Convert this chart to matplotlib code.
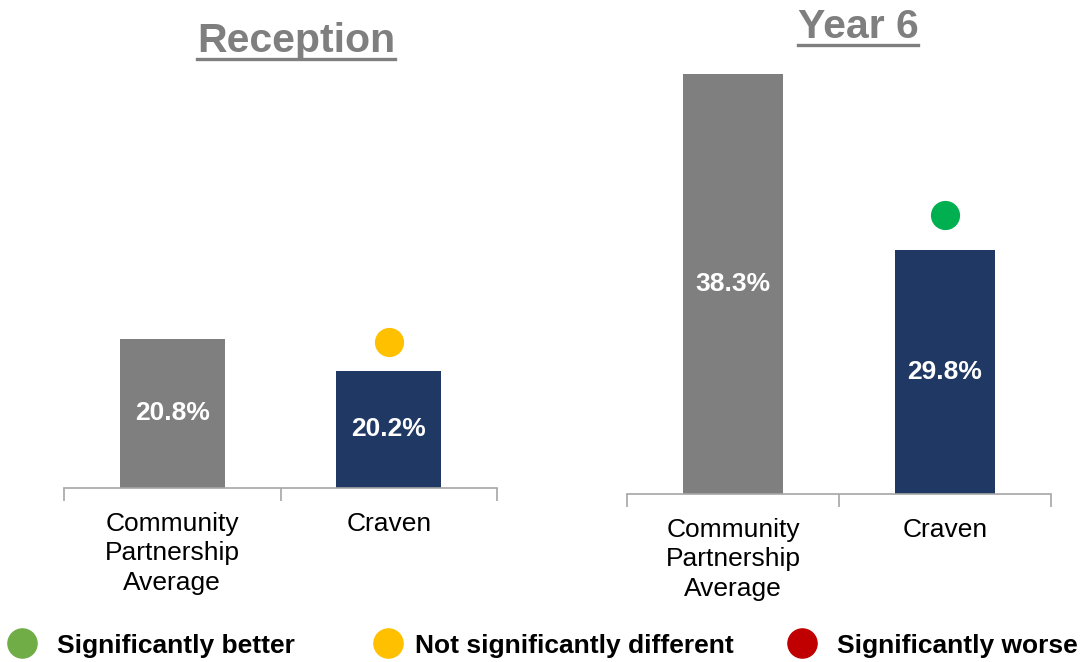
import matplotlib

matplotlib.use("Agg")
import matplotlib.pyplot as plt
from matplotlib.lines import Line2D
from matplotlib.transforms import offset_copy

plt.rcParams["font.family"] = ["Liberation Sans", "DejaVu Sans"]

# data
CATEGORIES = ["Community\nPartnership\nAverage", "Craven"]
RECEPTION = [20.8, 20.2]
YEAR6 = [38.3, 29.8]
RECEPTION_SIG = "not_different"  # Craven vs CP average
YEAR6_SIG = "better"
BASELINE = 18.0  # value axis starts at 18%

BAR_COLORS = ["#7f7f7f", "#203864"]
DOT_COLORS = {"better": "#00b050", "not_different": "#ffc000", "worse": "#c00000"}
LEGEND_ITEMS = [
    ("Significantly better", "#70ad47"),
    ("Not significantly different", "#ffc000"),
    ("Significantly worse", "#c00000"),
]

W, H = 1087, 662
fig = plt.figure(figsize=(W / 100, H / 100), dpi=100)


def px_box(left, right, top, bottom):
    return [left / W, 1 - bottom / H, (right - left) / W, (bottom - top) / H]


def draw_panel(rect, values, sig, px_per_unit, width, dot_gap):
    ax = fig.add_axes(rect)
    height_px = rect[3] * H
    ax.set_ylim(BASELINE, BASELINE + height_px / px_per_unit)
    ax.set_xlim(-0.5, 1.5)
    x = range(len(values))
    ax.bar(x, [v - BASELINE for v in values], bottom=BASELINE, width=width,
           color=BAR_COLORS)
    for xi, v in zip(x, values):
        ax.text(xi, (BASELINE + v) / 2, f"{v:.1f}%", ha="center", va="center",
                color="white", fontsize=19, fontweight="bold")
    dot_tr = offset_copy(ax.transData, fig=fig, y=dot_gap, units="dots")
    ax.plot([1], [values[1]], "o", ms=20, color=DOT_COLORS[sig],
            transform=dot_tr, clip_on=False)
    for s in ["top", "right", "left"]:
        ax.spines[s].set_visible(False)
    ax.spines["bottom"].set_color("#a6a6a6")
    ax.spines["bottom"].set_linewidth(1.2)
    ax.set_yticks([])
    ax.set_xticks(list(x), CATEGORIES, fontsize=19, linespacing=1.3)
    ax.tick_params(axis="x", which="major", length=0, pad=17)
    ax.set_xticks([-0.5, 0.5, 1.5], minor=True)
    ax.tick_params(axis="x", which="minor", length=9, width=1.2,
                   color="#a6a6a6")
    return ax


draw_panel(px_box(64, 497, 100, 488), RECEPTION, RECEPTION_SIG, 53.3, 0.485, 29)
draw_panel(px_box(627, 1051, 60, 494), YEAR6, YEAR6_SIG, 20.7, 0.476, 35)


def underlined_title(text, cx, baseline, line_y):
    t = fig.text(cx / W, 1 - baseline / H, text, ha="center", va="baseline",
                 fontsize=29.5, fontweight="bold", color="#7f7f7f")
    fig.canvas.draw()
    bb = t.get_window_extent()
    fig.add_artist(Line2D([bb.x0 / W, bb.x1 / W], [1 - line_y / H] * 2,
                          transform=fig.transFigure, color="#7f7f7f", lw=2.4))


underlined_title("Reception", 296, 52, 59)
underlined_title("Year 6", 858, 38, 45)

# legend row
legend_dot_x = [22, 388, 802]
legend_text_x = [57, 415, 837]
for (label, color), dx, tx in zip(LEGEND_ITEMS, legend_dot_x, legend_text_x):
    fig.add_artist(Line2D([dx / W], [1 - 643 / H], marker="o", ms=21,
                          color=color, transform=fig.transFigure))
    fig.text(tx / W, 1 - 653 / H, label, ha="left", va="baseline",
             fontsize=19, fontweight="bold", color="black")

fig.savefig("out.png", dpi=100)
